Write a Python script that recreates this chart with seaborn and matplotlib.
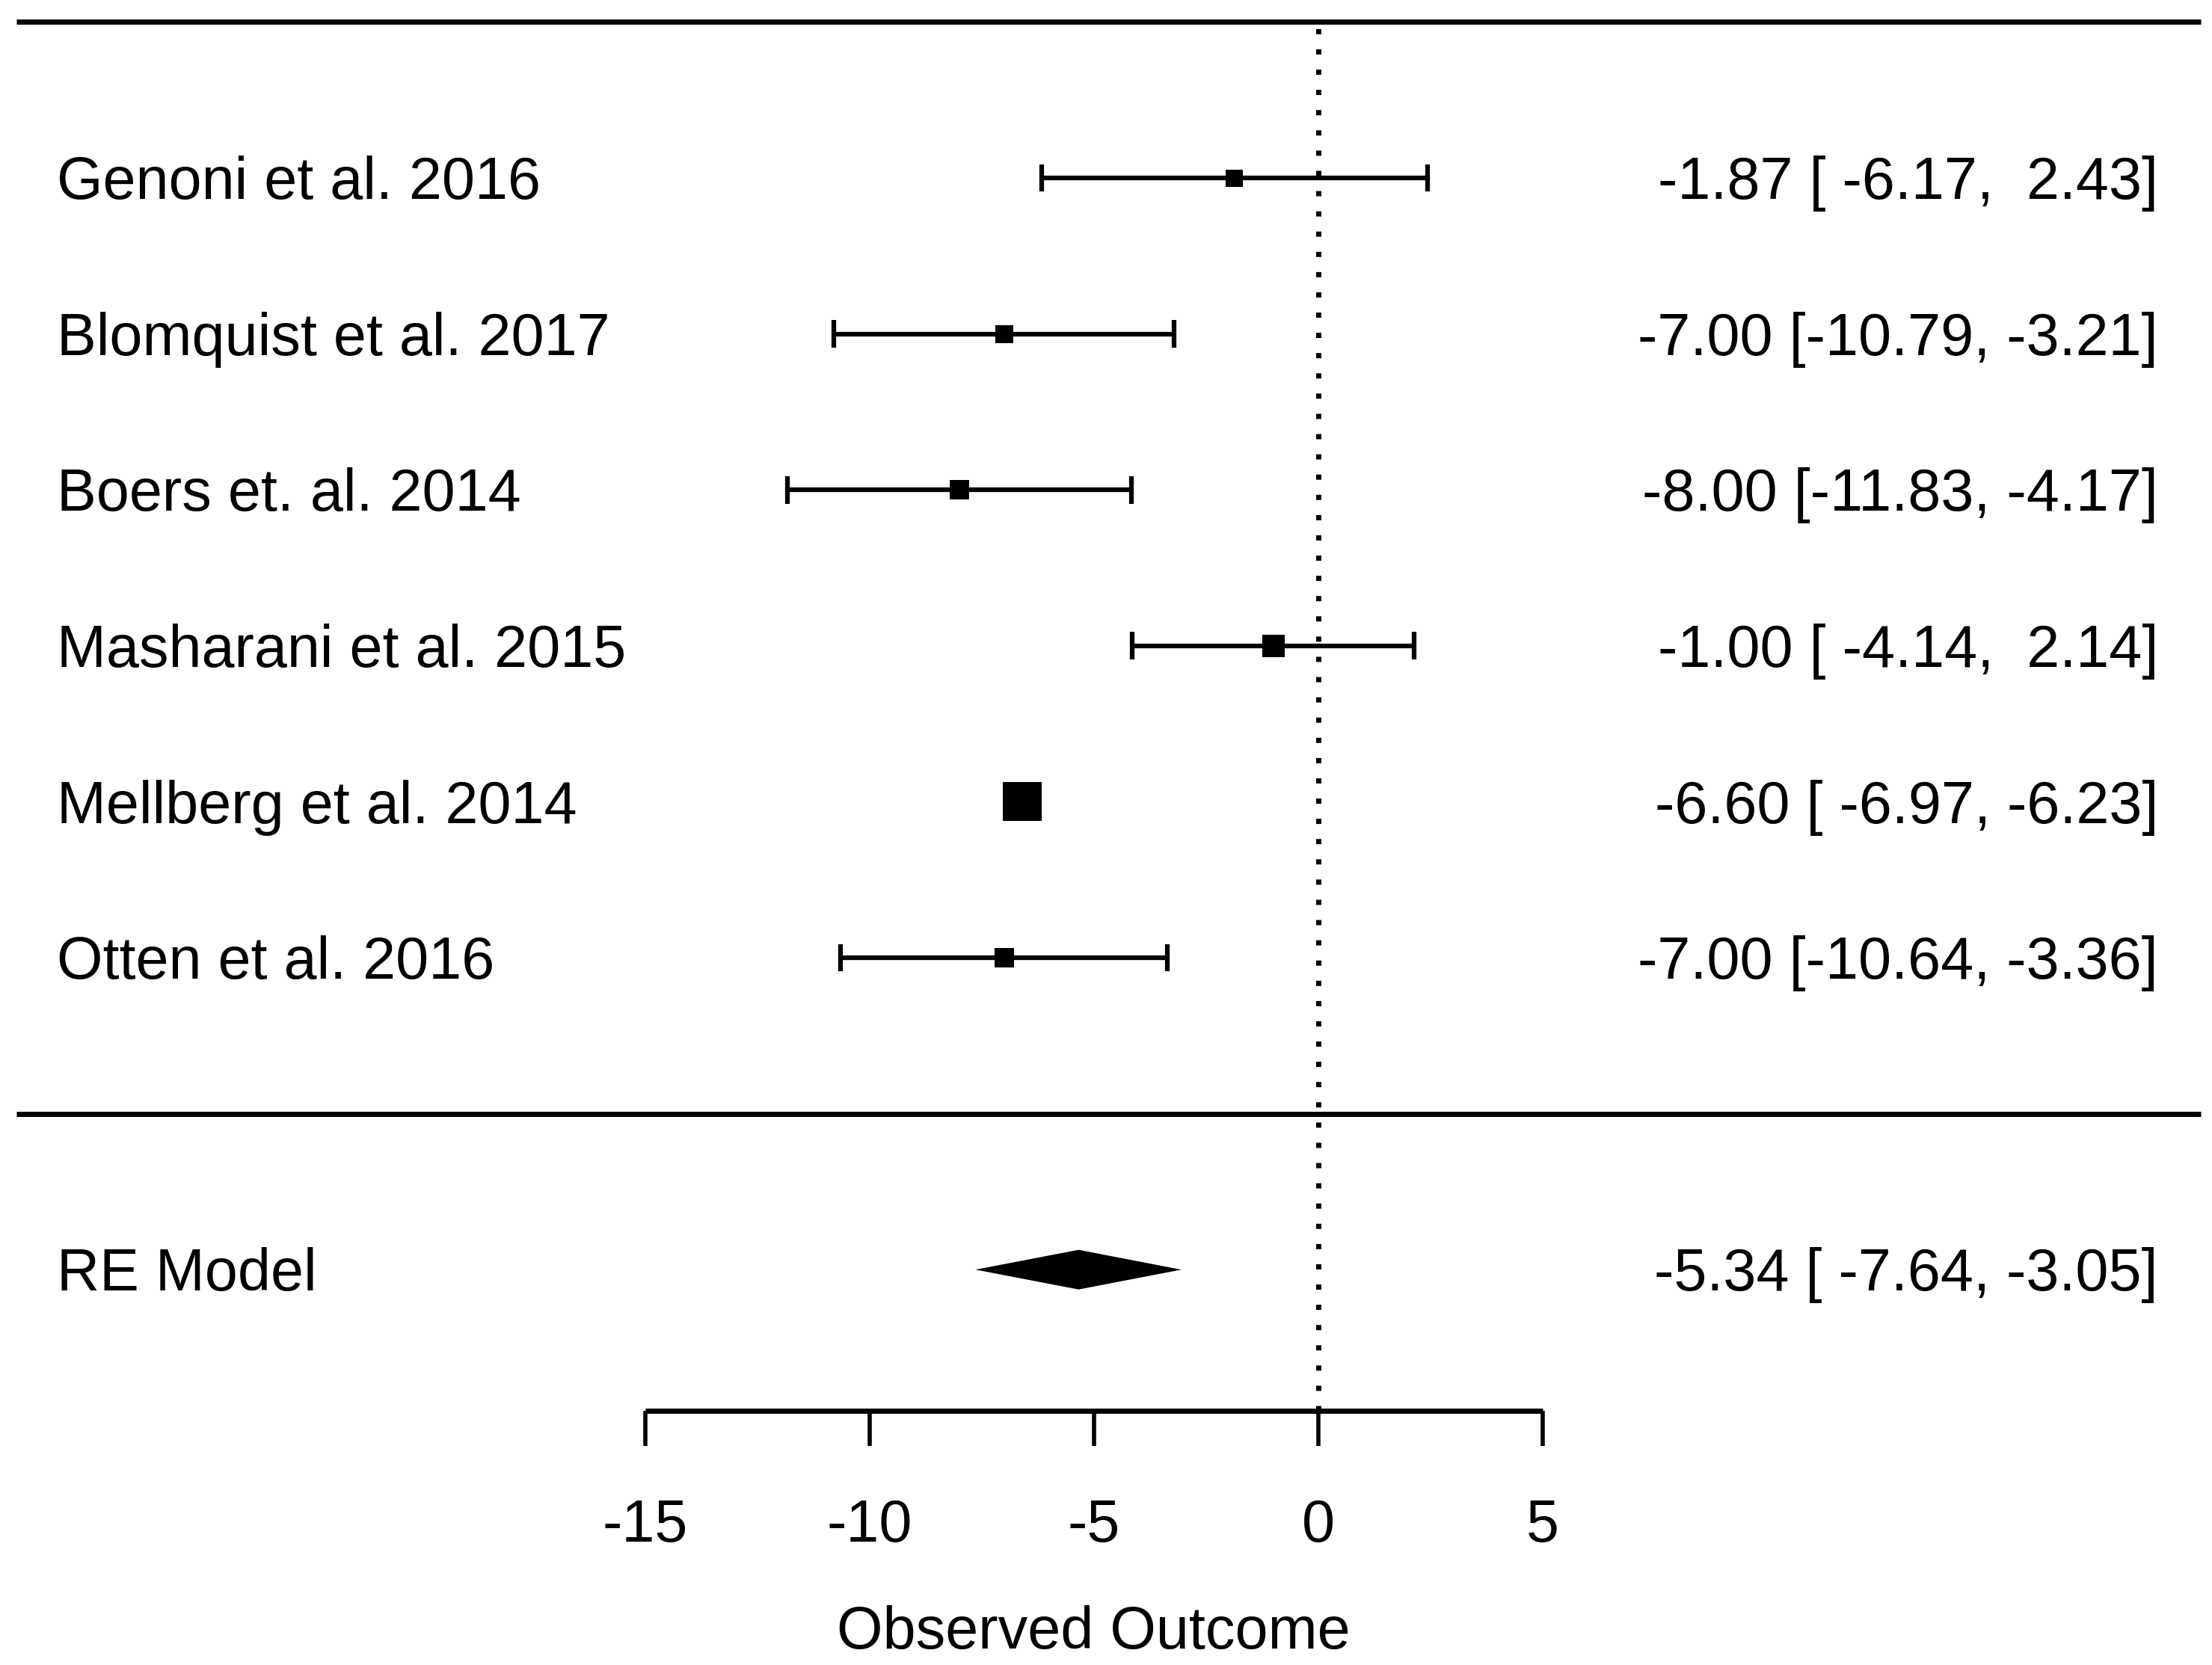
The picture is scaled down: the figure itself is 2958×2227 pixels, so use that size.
import matplotlib
matplotlib.use("Agg")
import matplotlib.pyplot as plt
import seaborn as sns
import pandas as pd
import numpy as np

# ---------------- data ----------------
studies = ["Genoni et al. 2016", "Blomquist et al. 2017", "Boers et. al. 2014",
           "Masharani et al. 2015", "Mellberg et al. 2014", "Otten et al. 2016"]
estimates = [-1.87, -7.00, -8.00, -1.00, -6.60, -7.00]
ci_lower = [-6.17, -10.79, -11.83, -4.14, -6.97, -10.64]
ci_upper = [2.43, -3.21, -4.17, 2.14, -6.23, -3.36]
model_label = "RE Model"
model_est = -5.34
model_lower = -7.64
model_upper = -3.05
x_ticks = [-15, -10, -5, 0, 5]
x_label = "Observed Outcome"

# ---------------- styles ----------------
marker_px = [23, 24, 26, 30, 52, 26]   # square side in pixels (weights)
DPI = 100
FS = 57
FONT = ["Liberation Sans", "DejaVu Sans"]

sns.set_theme(style="white")
plt.rcParams["font.family"] = FONT
plt.rcParams["text.color"] = "black"

k = len(studies)
rows = list(range(k, 0, -1))
df = pd.DataFrame({"study": studies, "est": estimates, "lo": ci_lower,
                   "hi": ci_upper, "row": rows})

fig = plt.figure(figsize=(2958 / DPI, 2227 / DPI), dpi=DPI)
ax = fig.add_axes([0, 0, 1, 1])
ax.set_xlim(-29.38, 19.92)
ax.set_ylim(-3.535, 7.141)
ax.axis("off")

line_left, line_right = -29.02, 19.67
ax.hlines([k + 1, 0], line_left, line_right, color="black", lw=5)
axis_row = -1.903
ax.vlines(0, axis_row, k + 1, color="black", lw=5,
          linestyles=[(0, (1.0, 2.9))])

# CIs
cap = 0.088
ax.hlines(df["row"], df["lo"], df["hi"], color="black", lw=4.5)
ax.vlines(df["lo"], df["row"] - cap, df["row"] + cap, color="black", lw=4.5)
ax.vlines(df["hi"], df["row"] - cap, df["row"] + cap, color="black", lw=4.5)

# squares
sizes = {s: (px * 72 / DPI) ** 2 for s, px in zip(studies, marker_px)}
sns.scatterplot(data=df, x="est", y="row", size="study", sizes=sizes,
                marker="s", color="black", linewidth=0, legend=False,
                ax=ax, zorder=5)

# diamond
dh = 0.127
ax.fill([model_lower, model_est, model_upper, model_est],
        [-1, -1 + dh, -1, -1 - dh], color="black", lw=0)

# text
base_off = 0.135
for s, r in zip(studies, rows):
    ax.text(-28.11, r - base_off, s, fontsize=FS, ha="left", va="baseline")
ax.text(-28.11, -1 - base_off, model_label, fontsize=FS, ha="left", va="baseline")

def fmt(e, l, h):
    return f"{e:.2f} [{l:6.2f}, {h:5.2f}]"

for e, l, h, r in zip(estimates, ci_lower, ci_upper, rows):
    ax.text(18.72, r - base_off, fmt(e, l, h), fontsize=FS, ha="right", va="baseline")
ax.text(18.72, -1 - base_off, fmt(model_est, model_lower, model_upper),
        fontsize=FS, ha="right", va="baseline")

# x axis
ax.hlines(axis_row, x_ticks[0], x_ticks[-1], color="black", lw=5)
ax.vlines(x_ticks, axis_row - 0.226, axis_row, color="black", lw=4)
for t in x_ticks:
    ax.text(t, -2.744, f"{t}", fontsize=FS, ha="center", va="baseline")
ax.text(np.mean([x_ticks[0], x_ticks[-1]]), -3.43, x_label, fontsize=FS,
        ha="center", va="baseline")

fig.savefig("out.png", dpi=DPI, facecolor="white")
